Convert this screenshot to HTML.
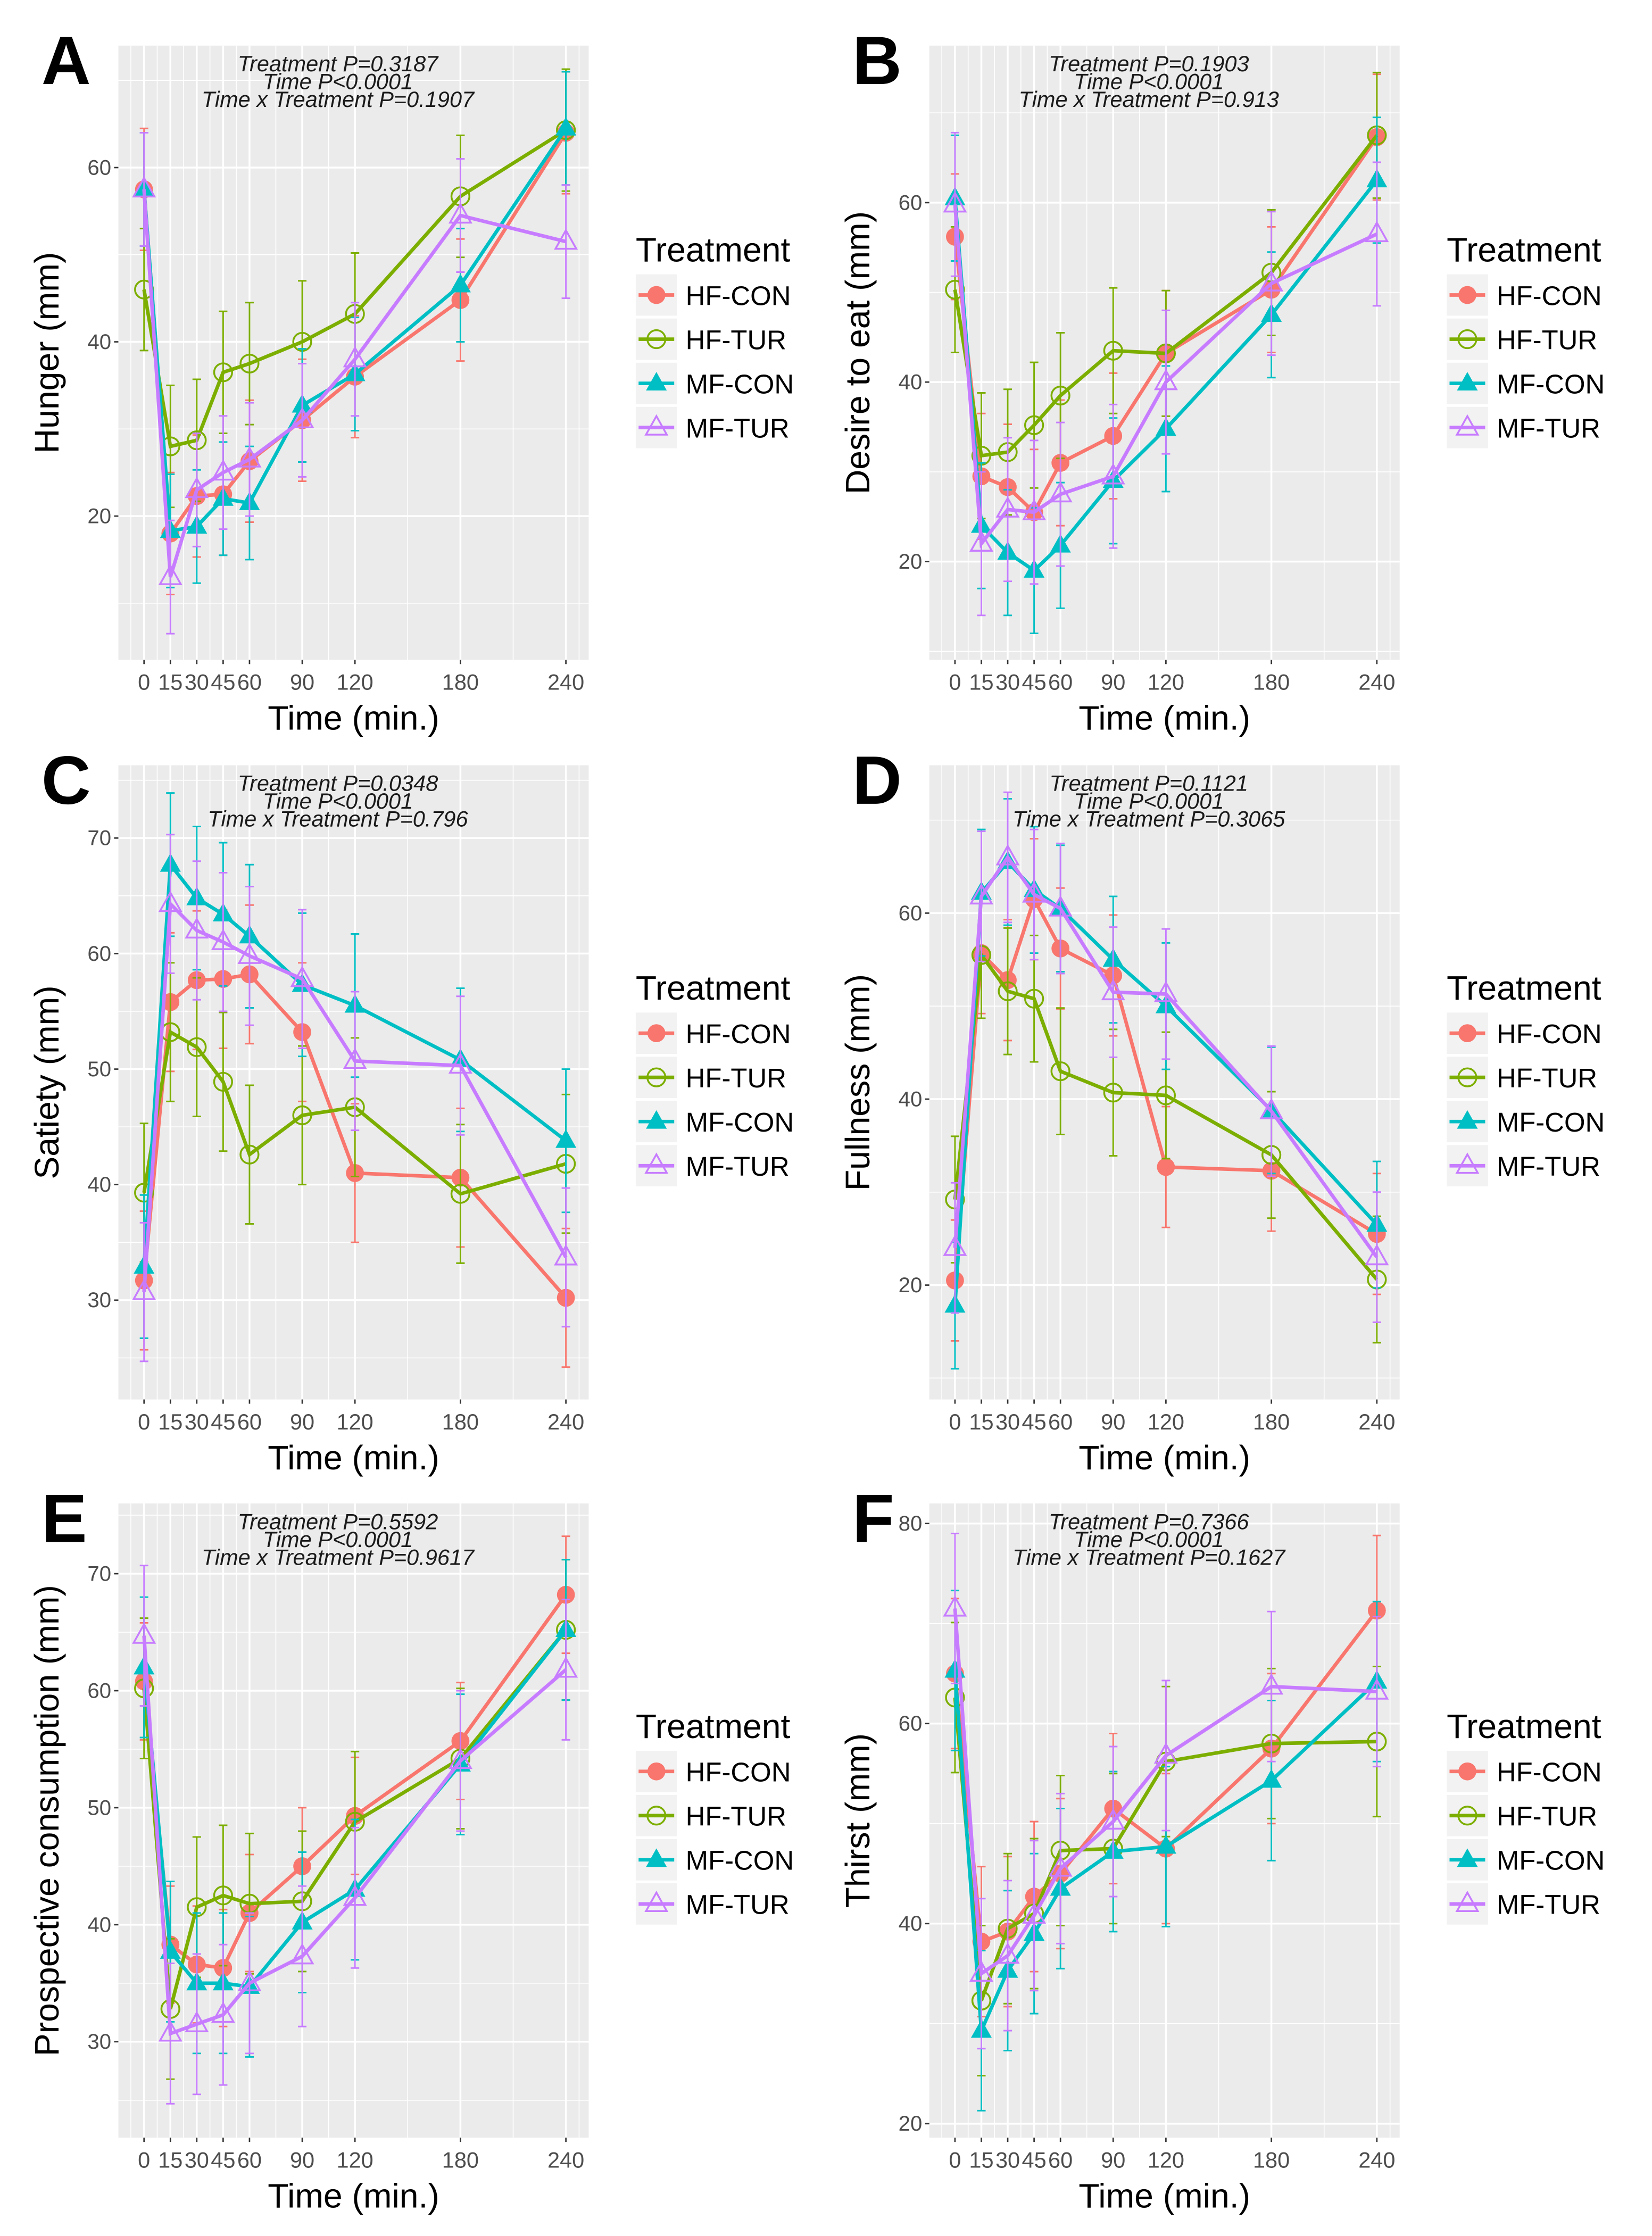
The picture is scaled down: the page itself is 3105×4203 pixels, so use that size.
<!DOCTYPE html>
<html><head><meta charset="utf-8"><style>
html,body{margin:0;padding:0;background:#fff;}
svg{display:block;font-family:"Liberation Sans",sans-serif;}
</style></head><body>
<svg id="fig" width="3105" height="4203" viewBox="0 0 1159 1569" xmlns="http://www.w3.org/2000/svg"></svg>
<script>
const timePoints = [0,15,30,45,60,90,120,180,240];
const xTickLabels = ["0","15","30","45","60","90","120","180","240"];
const seriesNames = ["HF-CON","HF-TUR","MF-CON","MF-TUR"];
const seriesColors = ["#F8766D","#7CAE00","#00BFC4","#C77CFF"];

const hungerHFCON = [57.5,18,22.3,22.5,26.3,31,36,44.8,64];
const hungerHFTUR = [46,28,28.7,36.5,37.5,40,43.2,56.7,64.3];
const hungerMFCON = [57.5,18.3,18.8,22,21.5,32.7,36.3,46.5,64.5];
const hungerMFTUR = [57.5,13,23,25,26.5,31,38,54.5,51.5];
const hungerErr = [7,7,6.5,6.5];
const hungerTicks = [20,40,60];

const desireHFCON = [56.2,29.5,28.3,25.5,31,34,43.2,50.3,67.3];
const desireHFTUR = [50.3,31.8,32.2,35.2,38.5,43.5,43.2,52.2,67.5];
const desireMFCON = [60.5,24,21,19,21.8,29,34.8,47.5,62.5];
const desireMFTUR = [59.8,22,25.8,25.5,27.5,29.5,40,51,56.5];
const desireErr = [7,7,7,8];
const desireTicks = [20,40,60];

const satietyHFCON = [31.7,55.8,57.7,57.8,58.2,53.2,41,40.6,30.2];
const satietyHFTUR = [39.3,53.2,51.9,48.9,42.6,46,46.7,39.2,41.8];
const satietyMFCON = [32.9,67.7,64.8,63.4,61.5,57.3,55.5,50.8,43.8];
const satietyMFTUR = [30.7,64.3,62,61,59.8,57.8,50.7,50.3,33.7];
const satietyErr = [6,6,6.2,6];
const satietyTicks = [30,40,50,60,70];

const fullnessHFCON = [20.5,55.7,52.8,61.5,56.2,53.3,32.7,32.3,25.5];
const fullnessHFTUR = [29.2,55.5,51.6,50.8,43,40.7,40.4,34,20.6];
const fullnessMFCON = [17.8,62.2,65.5,62.5,60.5,55,50,38.8,26.5];
const fullnessMFTUR = [24,61.8,66,62,60.5,51.5,51.3,38.7,23];
const fullnessErr = [6.5,6.8,6.8,7];
const fullnessTicks = [20,40,60];

const prospHFCON = [60.8,38.3,36.6,36.3,41,45,49.3,55.7,68.2];
const prospHFTUR = [60.2,32.8,41.5,42.5,41.8,42,48.8,54.2,65.2];
const prospMFCON = [62,37.7,35,35,34.7,40.2,43,53.7,65.2];
const prospMFTUR = [64.7,30.7,31.5,32.3,35,37.3,42.3,54,61.8];
const prospErr = [5,6,6,6];
const prospTicks = [30,40,50,60,70];

const thirstHFCON = [65,38.2,39.2,42.7,45,51.5,47.5,57.5,71.3];
const thirstHFTUR = [62.6,32.3,39.5,41,47.3,47.5,56.2,58,58.2];
const thirstMFCON = [65.3,29.3,35.3,39,43.5,47.2,47.7,54.3,64.2];
const thirstMFTUR = [71.5,35,36.8,40.8,45.5,50.2,56.8,63.7,63.2];
const thirstErr = [7.5,7.5,8,7.5];
const thirstTicks = [20,40,60,80];

const panels = [
 {letter:"A", key:"hunger", ytitle:"Hunger (mm)", series:[hungerHFCON,hungerHFTUR,hungerMFCON,hungerMFTUR], err:hungerErr, ticks:hungerTicks, ymin:3.5, ymax:74, col:0, row:0, stats:["Treatment P=0.3187","Time P<0.0001","Time x Treatment P=0.1907"]},
 {letter:"B", key:"desire", ytitle:"Desire to eat (mm)", series:[desireHFCON,desireHFTUR,desireMFCON,desireMFTUR], err:desireErr, ticks:desireTicks, ymin:9.05, ymax:77.5, col:1, row:0, stats:["Treatment P=0.1903","Time P<0.0001","Time x Treatment P=0.913"]},
 {letter:"C", key:"satiety", ytitle:"Satiety (mm)", series:[satietyHFCON,satietyHFTUR,satietyMFCON,satietyMFTUR], err:satietyErr, ticks:satietyTicks, ymin:21.4, ymax:76.3, col:0, row:1, stats:["Treatment P=0.0348","Time P<0.0001","Time x Treatment P=0.796"]},
 {letter:"D", key:"fullness", ytitle:"Fullness (mm)", series:[fullnessHFCON,fullnessHFTUR,fullnessMFCON,fullnessMFTUR], err:fullnessErr, ticks:fullnessTicks, ymin:7.7, ymax:75.9, col:1, row:1, stats:["Treatment P=0.1121","Time P<0.0001","Time x Treatment P=0.3065"]},
 {letter:"E", key:"prospective", ytitle:"Prospective consumption (mm)", series:[prospHFCON,prospHFTUR,prospMFCON,prospMFTUR], err:prospErr, ticks:prospTicks, ymin:21.8, ymax:76, col:0, row:2, stats:["Treatment P=0.5592","Time P<0.0001","Time x Treatment P=0.9617"]},
 {letter:"F", key:"thirst", ytitle:"Thirst (mm)", series:[thirstHFCON,thirstHFTUR,thirstMFCON,thirstMFTUR], err:thirstErr, ticks:thirstTicks, ymin:18.6, ymax:82, col:1, row:2, stats:["Treatment P=0.7366","Time P<0.0001","Time x Treatment P=0.1627"]}
];

const NS = "http://www.w3.org/2000/svg";
const svg = document.getElementById("fig");
function mk(tag, attrs, parent, text){
  const e = document.createElementNS(NS, tag);
  for (const k in attrs) e.setAttribute(k, attrs[k]);
  if (text !== undefined) e.textContent = text;
  (parent || svg).appendChild(e);
  return e;
}
const colX = [83, 652];
const rowY = [32, 537, 1055];
const rowH = [431, 445, 445];
const legOff = [60, 54, 54];
const PW = 330;

panels.forEach(p => {
  const g = mk("g", {});
  
  
  const L = colX[p.col], T = rowY[p.row], H = rowH[p.row], R = L + PW, B = T + H;
  const x0 = L + 18, x1 = L + 314;
  const xs = t => x0 + (t / 240) * (x1 - x0);
  const ys = v => B - (v - p.ymin) / (p.ymax - p.ymin) * H;

  const bg = mk("rect", {x:L, y:T, width:PW, height:H, fill:"#EBEBEB"}, g);
  
  

  const step = p.ticks[1] - p.ticks[0];
  for (let v = p.ticks[0] - step/2; v <= p.ymax; v += step) {
    if (v < p.ymin) continue;
    mk("line", {x1:L, x2:R, y1:ys(v), y2:ys(v), stroke:"#fff", "stroke-width":0.6}, g);
  }
  const minorX = [];
  for (let i = 0; i < timePoints.length - 1; i++) minorX.push((timePoints[i] + timePoints[i+1]) / 2);
  minorX.push(-7.5); minorX.push(247.5);
  minorX.forEach(t => { const xx = xs(t); if (xx > L && xx < R) mk("line", {x1:xx, x2:xx, y1:T, y2:B, stroke:"#fff", "stroke-width":0.6}, g); });
  p.ticks.forEach(v => {
    mk("line", {x1:L, x2:R, y1:ys(v), y2:ys(v), stroke:"#fff", "stroke-width":1.3}, g);
    mk("line", {x1:L-3, x2:L, y1:ys(v), y2:ys(v), stroke:"#333", "stroke-width":1}, g);
    const t = mk("text", {x:L-5, y:ys(v)+5, "text-anchor":"end", "font-size":15, fill:"#4D4D4D"}, g, String(v));
    
    
  });
  timePoints.forEach((tp, i) => {
    const xx = xs(tp);
    mk("line", {x1:xx, x2:xx, y1:T, y2:B, stroke:"#fff", "stroke-width":1.3}, g);
    mk("line", {x1:xx, x2:xx, y1:B, y2:B+3, stroke:"#333", "stroke-width":1}, g);
    const t = mk("text", {x:xx, y:B+21, "text-anchor":"middle", "font-size":15.5, fill:"#4D4D4D"}, g, xTickLabels[i]);
    
    
  });

  p.series.forEach((vals, si) => {
    const c = seriesColors[si];
    const sg = mk("g", {}, g);
    
    
    vals.forEach((v, i) => {
      const xx = xs(timePoints[i]), e = p.err[si];
      mk("line", {x1:xx, x2:xx, y1:ys(v-e), y2:ys(v+e), stroke:c, "stroke-width":1.1}, sg);
      mk("line", {x1:xx-3, x2:xx+3, y1:ys(v-e), y2:ys(v-e), stroke:c, "stroke-width":1.1}, sg);
      mk("line", {x1:xx-3, x2:xx+3, y1:ys(v+e), y2:ys(v+e), stroke:c, "stroke-width":1.1}, sg);
    });
    const pts = vals.map((v, i) => xs(timePoints[i]).toFixed(2) + "," + ys(v).toFixed(2)).join(" ");
    const line = mk("polyline", {points:pts, fill:"none", stroke:c, "stroke-width":2.5}, sg);
    
    
    vals.forEach((v, i) => {
      const xx = xs(timePoints[i]), yy = ys(v);
      let m;
      if (si === 0) m = mk("circle", {cx:xx, cy:yy, r:6.3, fill:c}, sg);
      else if (si === 1) m = mk("circle", {cx:xx, cy:yy, r:6.3, fill:"none", stroke:c, "stroke-width":1.3}, sg);
      else {
        const tri = `${xx},${yy-8} ${xx-7.3},${yy+5} ${xx+7.3},${yy+5}`;
        m = si === 2 ? mk("polygon", {points:tri, fill:c}, sg) : mk("polygon", {points:tri, fill:"none", stroke:c, "stroke-width":1.3}, sg);
      }
      
      
    });
  });

  const cx = L + 154;
  p.stats.forEach((s, i) => {
    const t = mk("text", {x:cx, y:T+18+i*12.5, "text-anchor":"middle", "font-size":15.5, "font-style":"italic", fill:"#1a1a1a"}, g, s);
    
    
  });

  const lt = mk("text", {x:L-54, y:T+27, "font-size":48, "font-weight":"bold", fill:"#000"}, g, p.letter);
  
  

  const xt = mk("text", {x:L+165, y:B+49, "text-anchor":"middle", "font-size":24, fill:"#000"}, g, "Time (min.)");
  
  
  const ycx = L - 42, ycy = T + H/2;
  const yt = mk("text", {x:ycx, y:ycy, "text-anchor":"middle", "font-size":24, fill:"#000", transform:`rotate(-90 ${ycx} ${ycy})`}, g, p.ytitle);
  
  

  const lx = R + 33, ly = T + H/2 - legOff[p.row];
  const lg = mk("g", {}, g);
  
  
  mk("text", {x:lx, y:ly - 4, "font-size":24, fill:"#000"}, lg, "Treatment");
  seriesNames.forEach((n, si) => {
    const ky = ly + 5 + si*31, c = seriesColors[si];
    const eg = mk("g", {}, lg);
    
    
    mk("rect", {x:lx, y:ky, width:29, height:29, fill:"#F2F2F2"}, eg);
    const cy = ky + 14.5, cxk = lx + 14.5;
    mk("line", {x1:lx+2, x2:lx+27, y1:cy, y2:cy, stroke:c, "stroke-width":2.5}, eg);
    if (si === 0) mk("circle", {cx:cxk, cy:cy, r:6.3, fill:c}, eg);
    else if (si === 1) mk("circle", {cx:cxk, cy:cy, r:6.3, fill:"none", stroke:c, "stroke-width":1.3}, eg);
    else {
      const tri = `${cxk},${cy-8} ${cxk-7.3},${cy+5} ${cxk+7.3},${cy+5}`;
      if (si === 2) mk("polygon", {points:tri, fill:c}, eg);
      else mk("polygon", {points:tri, fill:"none", stroke:c, "stroke-width":1.3}, eg);
    }
    mk("text", {x:lx+35, y:cy+7, "font-size":19, fill:"#000"}, eg, n);
  });
});
</script>
</body></html>
